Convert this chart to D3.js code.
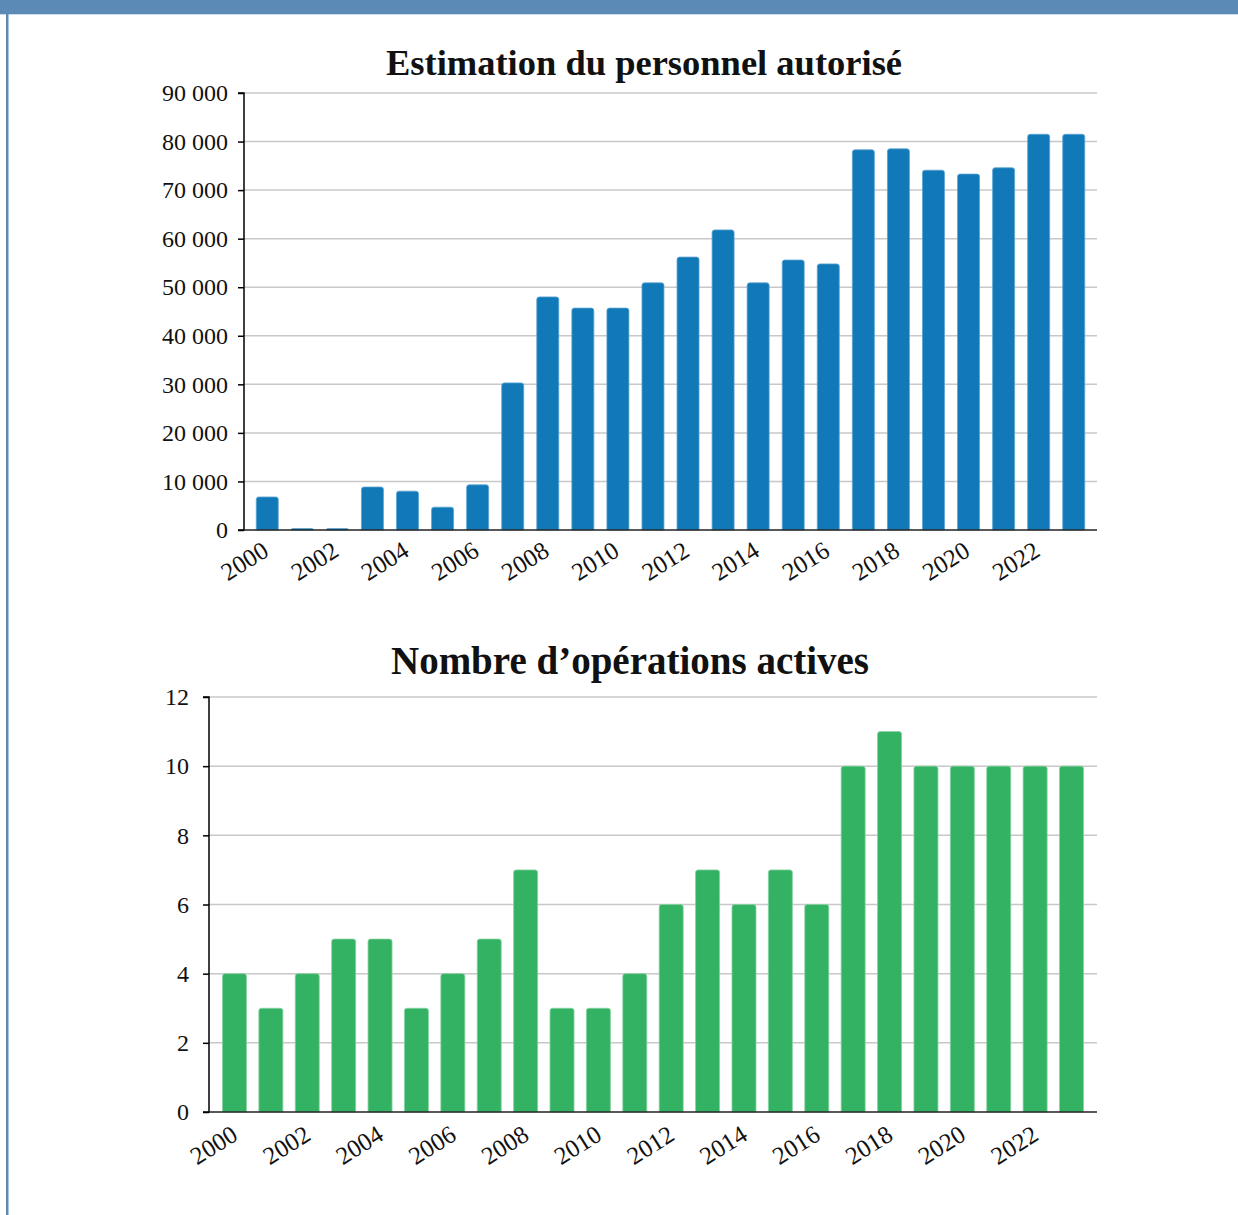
<!DOCTYPE html>
<html>
<head>
<meta charset="utf-8">
<script src="https://cdn.jsdelivr.net/npm/d3@7"></script>
<style>
  html, body { margin: 0; padding: 0; background: #fff; }
  svg { display: block; }
  text { font-family: "Liberation Serif", "DejaVu Serif", serif; fill: #111; }
</style>
</head>
<body>
<svg id="chart" width="1238" height="1215"></svg>
<script>
const years = ["2000","2001","2002","2003","2004","2005","2006","2007","2008","2009","2010","2011","2012","2013","2014","2015","2016","2017","2018","2019","2020","2021","2022","2023"];
const personnel = [6800,300,300,8850,8000,4700,9300,30300,48000,45700,45700,50900,56200,61800,50900,55600,54800,78300,78500,74100,73300,74600,81500,81500];
const operations = [4,3,4,5,5,3,4,5,7,3,3,4,6,7,6,7,6,10,11,10,10,10,10,10];
const personnelTicks = [0,10000,20000,30000,40000,50000,60000,70000,80000,90000];
const operationsTicks = [0,2,4,6,8,10,12];
const xTickLabels = ["2000","2002","2004","2006","2008","2010","2012","2014","2016","2018","2020","2022"];
const titles = ["Estimation du personnel autorisé", "Nombre d\u2019opérations actives"];

const svg = d3.select("#chart");

// page frame
svg.append("rect").attr("x",0).attr("y",0).attr("width",1238).attr("height",14).attr("fill","#5b8ab7");
svg.append("line").attr("x1",0).attr("x2",1238).attr("y1",14.5).attr("y2",14.5).attr("stroke","#c9daea").attr("stroke-width",1);
svg.append("rect").attr("x",6).attr("y",0).attr("width",2.5).attr("height",1215).attr("fill","#5b8ab7");

const fmt = v => d3.format(",")(v).replace(/,/g, "\u00a0");

function roundedTop(x, y, w, h, r) {
  r = Math.min(r, h, w/2);
  return `M${x},${y+h}V${y+r}Q${x},${y} ${x+r},${y}H${x+w-r}Q${x+w},${y} ${x+w},${y+r}V${y+h}Z`;
}

function drawChart(cfg) {
  const g = svg.append("g");
  const x = d3.scaleBand().domain(years).range([cfg.left, cfg.right])
    .paddingInner(cfg.pi).paddingOuter(cfg.po).align(0.5);
  const y = d3.scaleLinear().domain([0, cfg.max]).range([cfg.bottom, cfg.top]);

  // gridlines
  g.append("g").selectAll("line").data(cfg.ticks.filter(t => t > 0)).join("line")
    .attr("x1", cfg.left).attr("x2", cfg.right)
    .attr("y1", d => y(d)).attr("y2", d => y(d))
    .attr("stroke", "#c8c8c8").attr("stroke-width", 1.5);

  // bars
  g.append("g").selectAll("path").data(cfg.values).join("path")
    .attr("d", (d, i) => {
      const bx = x(years[i]), bw = x.bandwidth();
      const top = y(d), h = cfg.bottom - top;
      return roundedTop(bx, top, bw, h, 2.5);
    })
    .attr("fill", cfg.color)
    .attr("stroke", cfg.edge).attr("stroke-width", 0.8);

  // y axis
  const yAxis = d3.axisLeft(y).tickValues(cfg.ticks).tickSize(6).tickPadding(cfg.ypad).tickFormat(cfg.format);
  const ya = g.append("g").attr("transform", `translate(${cfg.left},0)`).call(yAxis);
  ya.select(".domain").attr("stroke", "#000").attr("stroke-width", 1.5).attr("d", `M-6,${cfg.top}H0V${cfg.bottom}H-6`);
  ya.selectAll(".tick line").attr("stroke", "#000").attr("stroke-width", 1.5);
  ya.selectAll(".tick text").attr("font-size", 24).attr("font-family", "Liberation Serif, serif").attr("fill", "#111");

  // x axis
  const xAxis = d3.axisBottom(x).tickValues(xTickLabels).tickSize(0).tickPadding(0);
  const xa = g.append("g").attr("transform", `translate(0,${cfg.bottom})`).call(xAxis);
  xa.select(".domain").attr("stroke", "#222").attr("stroke-width", 1.5).attr("d", `M${cfg.left},0H${cfg.right}`);
  xa.selectAll(".tick text")
    .attr("font-size", 25).attr("font-family", "Liberation Serif, serif").attr("fill", "#111")
    .attr("text-anchor", "end")
    .attr("dy", 0).attr("y", 0)
    .attr("transform", `translate(${cfg.lx},${cfg.ly}) rotate(-32)`);

  // title
  g.append("text").attr("x", cfg.tx).attr("y", cfg.ty)
    .attr("text-anchor", "middle").attr("font-weight", "bold").attr("font-size", cfg.tsize)
    .text(cfg.title);
}

drawChart({
  values: personnel, ticks: personnelTicks, max: 90000, format: fmt,
  left: 244, right: 1097, top: 93, bottom: 530, pi: 0.373, po: 0.35,
  color: "#1179b7", edge: "#5aa3d3", lx: 3, ly: 25, ypad: 10,
  title: titles[0], tx: 644, ty: 75, tsize: 36.5
});
drawChart({
  values: operations, ticks: operationsTicks, max: 12, format: d3.format("d"),
  left: 209, right: 1097, top: 697, bottom: 1112, pi: 0.34, po: 0.37,
  color: "#34b263", edge: "#86d3a3", lx: 5, ly: 27, ypad: 14,
  title: titles[1], tx: 630, ty: 674, tsize: 39
});
</script>
</body>
</html>
